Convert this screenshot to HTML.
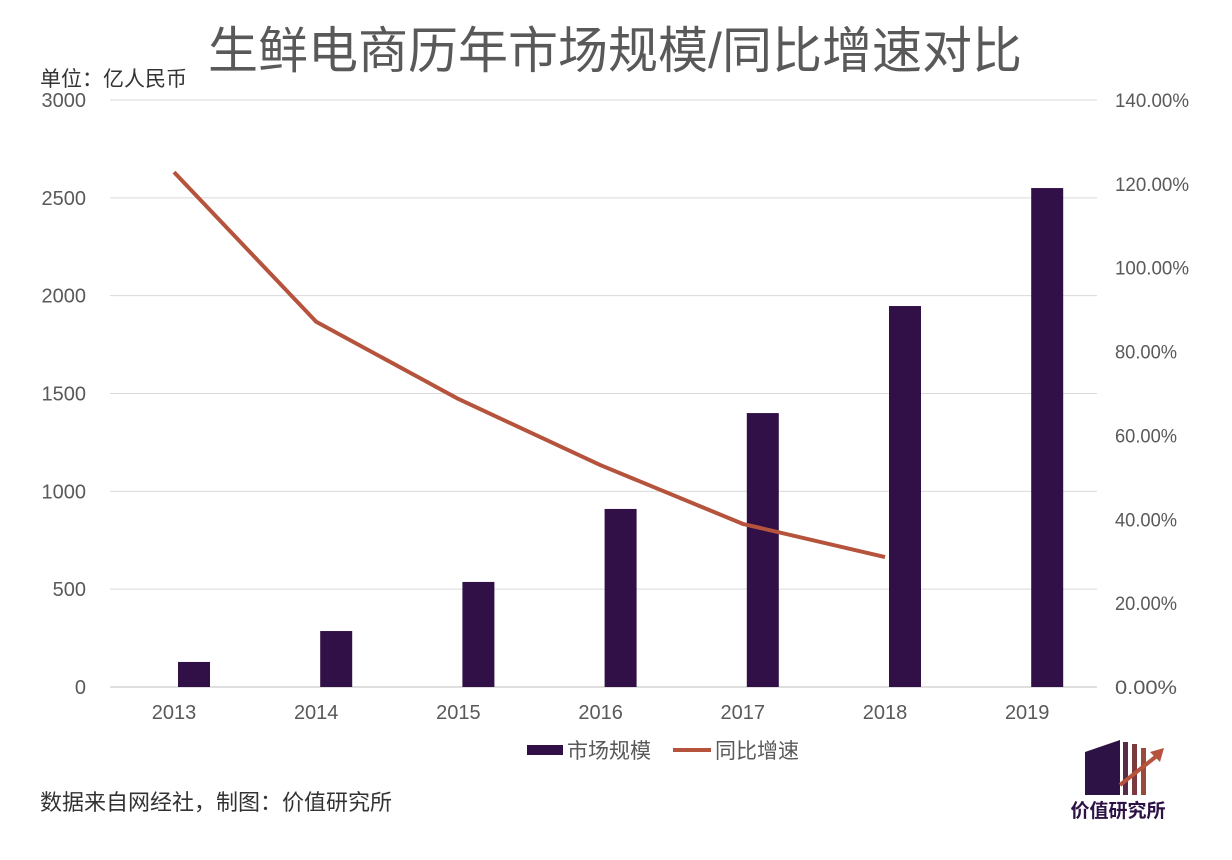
<!DOCTYPE html>
<html><head><meta charset="utf-8"><style>
body{margin:0;background:#fff;}
svg text{font-family:"Liberation Sans","Noto Sans CJK SC",sans-serif;}
</style></head><body>
<svg id="chart" width="1232" height="855">
<text x="615" y="68" text-anchor="middle" font-size="50" fill="#595959">生鲜电商历年市场规模/同比增速对比</text>
<text x="40" y="86" font-size="21" fill="#333">单位：亿人民币</text>
<g id="grid"></g><g id="bars"></g><g id="line"></g><g id="axes"></g>
<g>
<rect x="527" y="745" width="36" height="10" fill="#301046"/>
<text x="567" y="758" font-size="21" fill="#595959">市场规模</text>
<line x1="673" y1="750" x2="711" y2="750" stroke="#b5533c" stroke-width="4"/>
<text x="715" y="758" font-size="21" fill="#595959">同比增速</text>
</g>
<text x="40" y="810" font-size="22" fill="#333">数据来自网经社，制图：价值研究所</text>
<g>
<polygon points="1085,752 1120,740 1120,795 1085,795" fill="#2d1245"/>
<rect x="1123" y="742" width="5" height="53" fill="#5a2a4a"/>
<rect x="1132" y="744" width="5" height="51" fill="#7a3a40"/>
<rect x="1141" y="748" width="5" height="47" fill="#9a4a3a"/>
<line x1="1120" y1="785" x2="1158" y2="755" stroke="#b5533c" stroke-width="4"/>
<polygon points="1164,748 1150,752 1160,762" fill="#b5533c"/>
<text x="1118" y="817" text-anchor="middle" font-size="19" font-weight="bold" fill="#2d1245">价值研究所</text>
</g>
</svg>
<script>
const years=['2013','2014','2015','2016','2017','2018','2019'];
const market=[128,286,537,910,1400,1947,2550];
const growth=[122.8,87.1,68.7,52.9,38.9,31.0];
const leftTicks=[0,500,1000,1500,2000,2500,3000];
const rightTicks=['0.00%','20.00%','40.00%','60.00%','80.00%','100.00%','120.00%','140.00%'];
const NS='http://www.w3.org/2000/svg';
const x0=110,x1=1097,yb=687,yt=100;
const step=142.2;
const xs=i=>194+step*i;
const yl=v=>yb-(v/3000)*(yb-yt);
const yr=v=>yb-(v/140)*(yb-yt);
function mk(t,a,p){const e=document.createElementNS(NS,t);for(const k in a)e.setAttribute(k,a[k]);document.getElementById(p).appendChild(e);return e;}
leftTicks.forEach(v=>{
 const g=mk('line',{x1:x0,x2:x1,y1:yl(v),y2:yl(v),stroke:v===0?'#bfbfbf':'#d9d9d9','stroke-width':1},'grid');
 
 
 const t=mk('text',{x:86,y:yl(v)+7,'text-anchor':'end','font-size':20,fill:'#595959'},'axes');t.textContent=v;
 
 
});
rightTicks.forEach((s,i)=>{
 const t=mk('text',{x:1115,y:yr(i*20)+7,'font-size':19,fill:'#595959','textLength':s.length>6?74:62,'lengthAdjust':'spacingAndGlyphs'},'axes');t.textContent=s;
 
 
});
years.forEach((y,i)=>{
 const t=mk('text',{x:xs(i)-20,y:719,'text-anchor':'middle','font-size':20,fill:'#595959'},'axes');t.textContent=y;
 
 
 const b=mk('rect',{x:xs(i)-16,y:yl(market[i]),width:32,height:yb-yl(market[i]),fill:'#301046'},'bars');
 
 
});
const pl=mk('polyline',{points:growth.map((g,i)=>(xs(i)-20)+','+yr(g)).join(' '),fill:'none',stroke:'#b5533c','stroke-width':4,'stroke-linejoin':'round'},'line');


</script>
</body></html>
